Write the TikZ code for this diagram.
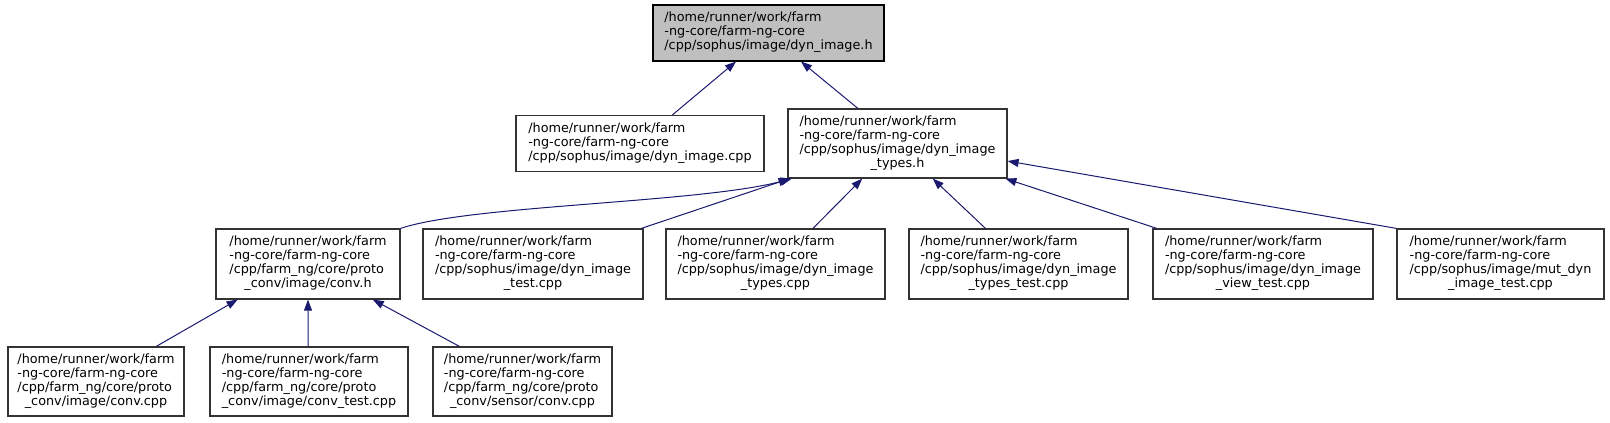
\documentclass[tikz,border=0pt]{standalone}
\usepackage{fontspec}
\setmainfont{DejaVu Sans}
\usetikzlibrary{arrows.meta,calc}
\definecolor{edgeblue}{RGB}{25,25,112}
\definecolor{rootfill}{RGB}{191,191,191}
\newcommand{\lab}[2]{\begin{tabular}{@{}l@{}}#1\\\multicolumn{1}{@{}c@{}}{#2}\end{tabular}}
\tikzset{
  filebox/.style={draw=black!80, line width=1.2pt, fill=white, inner sep=0pt,
    font=\fontsize{12.8}{14}\selectfont},
  rootbox/.style={filebox, draw=black, fill=rootfill},
  dep/.style={draw=edgeblue, line width=1pt, -{Triangle[length=11pt,width=8pt]}, fill=none}
}
\begin{document}
\begin{tikzpicture}[x=1pt,y=-1pt]
\useasboundingbox (0,0) rectangle (1610,423);
% row 1
\node[rootbox, minimum width=231pt, minimum height=56pt] (top) at (768.5,33)
  {\lab{/home/runner/work/farm\\-ng-core/farm-ng-core}{/cpp/sophus/image/dyn\_image.h}};
% row 2
\node[filebox, minimum width=248pt, minimum height=56pt] (dyncpp) at (640,143.5)
  {\lab{/home/runner/work/farm\\-ng-core/farm-ng-core}{/cpp/sophus/image/dyn\_image.cpp}};
\node[filebox, minimum width=219pt, minimum height=69pt] (typesh) at (897.5,143.5)
  {\lab{/home/runner/work/farm\\-ng-core/farm-ng-core\\/cpp/sophus/image/dyn\_image}{\_types.h}};
% row 3
\node[filebox, minimum width=184pt, minimum height=70pt] (convh) at (308,264)
  {\lab{/home/runner/work/farm\\-ng-core/farm-ng-core\\/cpp/farm\_ng/core/proto}{\_conv/image/conv.h}};
\node[filebox, minimum width=220pt, minimum height=70pt] (dyntest) at (533,264)
  {\lab{/home/runner/work/farm\\-ng-core/farm-ng-core\\/cpp/sophus/image/dyn\_image}{\_test.cpp}};
\node[filebox, minimum width=219pt, minimum height=70pt] (typescpp) at (775.5,264)
  {\lab{/home/runner/work/farm\\-ng-core/farm-ng-core\\/cpp/sophus/image/dyn\_image}{\_types.cpp}};
\node[filebox, minimum width=219pt, minimum height=70pt] (typestest) at (1018.5,264)
  {\lab{/home/runner/work/farm\\-ng-core/farm-ng-core\\/cpp/sophus/image/dyn\_image}{\_types\_test.cpp}};
\node[filebox, minimum width=220pt, minimum height=70pt] (viewtest) at (1263,264)
  {\lab{/home/runner/work/farm\\-ng-core/farm-ng-core\\/cpp/sophus/image/dyn\_image}{\_view\_test.cpp}};
\node[filebox, minimum width=207pt, minimum height=70pt] (mutdyn) at (1500.5,264)
  {\lab{/home/runner/work/farm\\-ng-core/farm-ng-core\\/cpp/sophus/image/mut\_dyn}{\_image\_test.cpp}};
% row 4
\node[filebox, minimum width=176pt, minimum height=69pt] (convcpp) at (96,381.5)
  {\lab{/home/runner/work/farm\\-ng-core/farm-ng-core\\/cpp/farm\_ng/core/proto}{\_conv/image/conv.cpp}};
\node[filebox, minimum width=198pt, minimum height=69pt] (convtest) at (309,381.5)
  {\lab{/home/runner/work/farm\\-ng-core/farm-ng-core\\/cpp/farm\_ng/core/proto}{\_conv/image/conv\_test.cpp}};
\node[filebox, minimum width=179pt, minimum height=69pt] (sensor) at (522.5,381.5)
  {\lab{/home/runner/work/farm\\-ng-core/farm-ng-core\\/cpp/farm\_ng/core/proto}{\_conv/sensor/conv.cpp}};
% edges
\draw[dep] ($(dyncpp.north west)!0.63!(dyncpp.north east)$) -- ($(top.south west)!0.36!(top.south east)$);
\draw[dep] ($(typesh.north west)!0.32!(typesh.north east)$) -- ($(top.south west)!0.64!(top.south east)$);
\draw[dep] (convh.north east) .. controls (470,205) and (700,203) .. ($(typesh.south west)!0.02!(typesh.south east)$);
\draw[dep] ($(dyntest.north west)!0.99!(dyntest.north east)$) -- ($(typesh.south west)!0.01!(typesh.south east)$);
\draw[dep] ($(typescpp.north west)!0.67!(typescpp.north east)$) -- ($(typesh.south west)!0.34!(typesh.south east)$);
\draw[dep] ($(typestest.north west)!0.35!(typestest.north east)$) -- ($(typesh.south west)!0.66!(typesh.south east)$);
\draw[dep] ($(viewtest.north west)!0.02!(viewtest.north east)$) -- ($(typesh.south west)!0.99!(typesh.south east)$);
\draw[dep] (mutdyn.north west) -- ($(typesh.north east)!0.75!(typesh.south east)$);
\draw[dep] ($(convcpp.north west)!0.84!(convcpp.north east)$) -- ($(convh.south west)!0.12!(convh.south east)$);
\draw[dep] ($(convtest.north west)!0.495!(convtest.north east)$) -- ($(convh.south west)!0.5!(convh.south east)$);
\draw[dep] ($(sensor.north west)!0.15!(sensor.north east)$) -- ($(convh.south west)!0.85!(convh.south east)$);
\end{tikzpicture}
\end{document}
